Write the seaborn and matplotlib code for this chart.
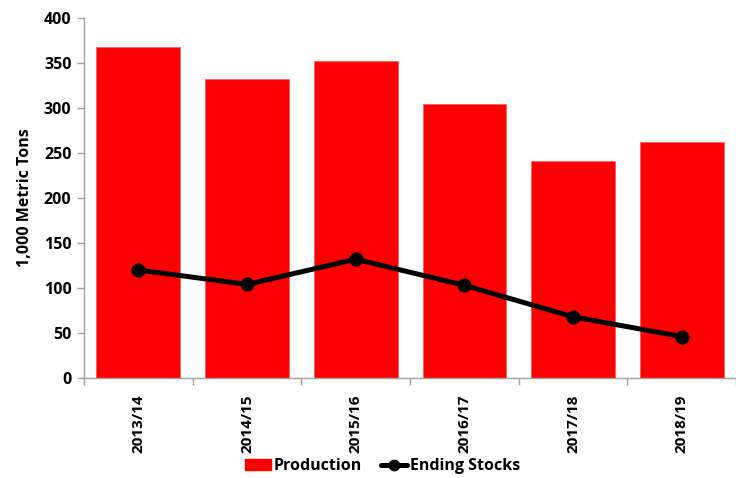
import matplotlib
matplotlib.use("Agg")
import matplotlib.pyplot as plt
import seaborn as sns
import numpy as np
from matplotlib.lines import Line2D
from matplotlib.patches import Patch

# Chart data
years = ["2013/14", "2014/15", "2015/16", "2016/17", "2017/18", "2018/19"]
production = [368, 332, 352, 304, 241, 262]
ending_stocks = [120, 104, 132, 103, 68, 46]
y_ticks = [0, 50, 100, 150, 200, 250, 300, 350, 400]

sns.set_theme(style="white")
plt.rcParams["font.family"] = ["Open Sans", "DejaVu Sans"]
plt.rcParams.update({
    "font.weight": "bold",
    "text.color": "black",
    "axes.labelcolor": "black",
    "xtick.color": "black",
    "ytick.color": "black",
})

fig = plt.figure(figsize=(7.36, 4.78), dpi=100)
ax = fig.add_axes([0.1141, 0.2092, 0.886, 0.7531])

sns.barplot(x=years, y=production, color="#ff0000", saturation=1, width=0.77,
            edgecolor="#ff6060", linewidth=0.6, ax=ax)
sns.pointplot(x=years, y=ending_stocks, color="black", markers="o",
              markersize=7.5, linewidth=3.6, ax=ax)

ax.set_ylim(0, 400)
ax.set_xlim(-0.5, len(years) - 0.5)
ax.set_yticks(y_ticks)
ax.set_yticklabels([str(t) for t in y_ticks], fontsize=11.5, fontweight="bold")
ax.set_xticks(range(len(years)))
ax.set_xticklabels(years, rotation=90, fontsize=11, fontweight="bold")
ax.set_xticks(np.arange(-0.5, len(years), 1), minor=True)
ax.tick_params(axis="x", which="major", length=0, pad=12)
ax.tick_params(axis="x", which="minor", length=5, color="#a0a0a0", width=1, direction="out", bottom=True)
ax.tick_params(axis="y", length=5, color="#a0a0a0", width=1, direction="out", left=True, pad=4, labelcolor="black")
ax.set_ylabel("1,000 Metric Tons", fontsize=11.5, fontweight="bold", labelpad=8, color="black")

for side in ["top", "right"]:
    ax.spines[side].set_visible(False)
for side in ["left", "bottom"]:
    ax.spines[side].set_color("#a0a0a0")
    ax.spines[side].set_linewidth(1)

handles = [Patch(facecolor="#ff0000", edgecolor="#ff0000"),
           Line2D([0], [0], color="black", lw=3.6, marker="o", markersize=7.5)]
fig.legend(handles, ["Production", "Ending Stocks"], loc="lower center",
           bbox_to_anchor=(0.52, -0.022), ncol=2, frameon=False,
           prop={"size": 11.5, "weight": "bold"}, handlelength=1.6,
           handletextpad=0.2, columnspacing=1.2, labelcolor="black")

fig.savefig("out.png", dpi=100)
